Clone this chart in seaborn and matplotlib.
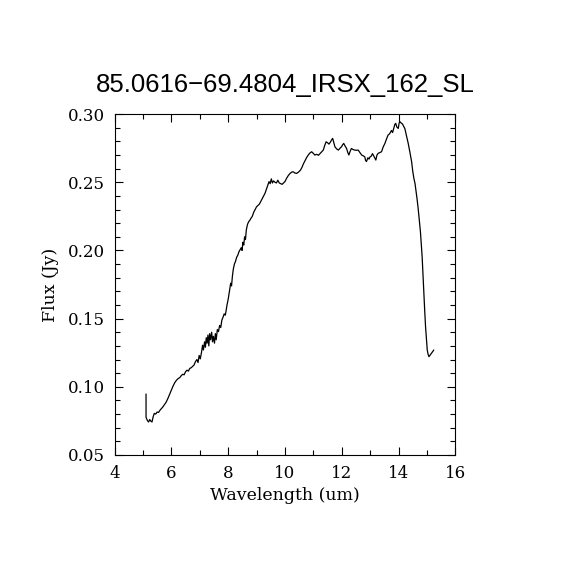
import matplotlib
matplotlib.use("Agg")
import matplotlib.pyplot as plt
import seaborn as sns
import pandas as pd
from matplotlib.ticker import MultipleLocator

# IRS SL spectrum
wavelength = [
    5.11, 5.11, 5.16, 5.20, 5.24, 5.28, 5.32, 5.36, 5.40, 5.45, 5.50, 5.55,
    5.60, 5.65, 5.70, 5.76, 5.82, 5.88, 5.94, 6.00, 6.06, 6.12, 6.18, 6.24,
    6.30, 6.35, 6.40, 6.45, 6.50, 6.55, 6.60, 6.65, 6.70, 6.75, 6.80, 6.85,
    6.90, 6.94, 6.98, 7.02, 7.06, 7.10, 7.13, 7.17, 7.20, 7.23, 7.26, 7.29,
    7.32, 7.35, 7.38, 7.42, 7.45, 7.48, 7.52, 7.55, 7.58, 7.62, 7.66, 7.70,
    7.74, 7.78, 7.82, 7.86, 7.90, 7.93, 7.96, 8.00, 8.03, 8.06, 8.09, 8.12,
    8.15, 8.18, 8.22, 8.26, 8.30, 8.34, 8.38, 8.42, 8.46, 8.49, 8.52, 8.55,
    8.58, 8.61, 8.64, 8.68, 8.72, 8.76, 8.80, 8.85, 8.90, 8.95, 9.00, 9.05,
    9.10, 9.15, 9.20, 9.25, 9.30, 9.35, 9.40, 9.44, 9.48, 9.52, 9.56, 9.60,
    9.65, 9.70, 9.75, 9.80, 9.85, 9.90, 9.95, 10.00, 10.06, 10.12, 10.18,
    10.24, 10.29, 10.35, 10.41, 10.48, 10.55, 10.60, 10.65, 10.70, 10.76,
    10.82, 10.88, 10.94, 11.00, 11.05, 11.12, 11.18, 11.24, 11.30, 11.35,
    11.40, 11.45, 11.50, 11.55, 11.60, 11.64, 11.68, 11.72, 11.76, 11.82,
    11.88, 11.94, 11.99, 12.03, 12.07, 12.12, 12.17, 12.21, 12.25, 12.30,
    12.34, 12.40, 12.46, 12.52, 12.58, 12.64, 12.70, 12.75, 12.81, 12.84,
    12.87, 12.92, 12.96, 12.99, 13.04, 13.08, 13.11, 13.16, 13.20, 13.24,
    13.28, 13.34, 13.40, 13.46, 13.52, 13.58, 13.63, 13.68, 13.72, 13.75,
    13.79, 13.83, 13.87, 13.90, 13.94, 13.99, 14.02, 14.05, 14.09, 14.14,
    14.18, 14.22, 14.28, 14.34, 14.40, 14.46, 14.50, 14.54, 14.58, 14.61,
    14.65, 14.69, 14.73, 14.77, 14.80, 14.83, 14.86, 14.89, 14.92, 14.95,
    14.98, 15.01, 15.04, 15.07, 15.11, 15.16, 15.20, 15.24,
]
flux = [
    0.0947, 0.0776, 0.0752, 0.0742, 0.0760, 0.0748, 0.0742, 0.0780, 0.0805,
    0.0800, 0.0815, 0.0812, 0.0828, 0.0840, 0.0852, 0.0870, 0.0888, 0.0915,
    0.0945, 0.0975, 0.1005, 0.1030, 0.1048, 0.1060, 0.1068, 0.1082, 0.1092,
    0.1088, 0.1110, 0.1122, 0.1115, 0.1135, 0.1140, 0.1150, 0.1160, 0.1185,
    0.1200, 0.1178, 0.1230, 0.1205, 0.1250, 0.1305, 0.1270, 0.1330, 0.1290,
    0.1360, 0.1320, 0.1380, 0.1300, 0.1390, 0.1345, 0.1400, 0.1330, 0.1370,
    0.1320, 0.1390, 0.1345, 0.1420, 0.1405, 0.1450, 0.1435, 0.1490, 0.1510,
    0.1535, 0.1525, 0.1560, 0.1600, 0.1640, 0.1680, 0.1720, 0.1760, 0.1740,
    0.1810, 0.1860, 0.1900, 0.1920, 0.1950, 0.1965, 0.1990, 0.2005, 0.2020,
    0.2000, 0.2060, 0.2040, 0.2100, 0.2080, 0.2150, 0.2190, 0.2210, 0.2220,
    0.2235, 0.2250, 0.2280, 0.2300, 0.2320, 0.2330, 0.2340, 0.2360, 0.2380,
    0.2400, 0.2420, 0.2450, 0.2480, 0.2505, 0.2490, 0.2525, 0.2495, 0.2510,
    0.2500, 0.2495, 0.2515, 0.2495, 0.2490, 0.2485, 0.2495, 0.2505, 0.2530,
    0.2550, 0.2565, 0.2575, 0.2577, 0.2568, 0.2565, 0.2575, 0.2590, 0.2610,
    0.2635, 0.2655, 0.2680, 0.2700, 0.2715, 0.2724, 0.2712, 0.2700, 0.2705,
    0.2698, 0.2712, 0.2725, 0.2736, 0.2770, 0.2797, 0.2790, 0.2780, 0.2795,
    0.2810, 0.2822, 0.2790, 0.2760, 0.2745, 0.2736, 0.2750, 0.2760, 0.2775,
    0.2785, 0.2765, 0.2748, 0.2720, 0.2700, 0.2730, 0.2748, 0.2740, 0.2736,
    0.2735, 0.2736, 0.2718, 0.2700, 0.2695, 0.2687, 0.2660, 0.2652, 0.2680,
    0.2670, 0.2685, 0.2692, 0.2710, 0.2700, 0.2680, 0.2663, 0.2700, 0.2712,
    0.2718, 0.2724, 0.2760, 0.2785, 0.2820, 0.2846, 0.2855, 0.2868, 0.2880,
    0.2865, 0.2895, 0.2925, 0.2932, 0.2905, 0.2895, 0.2935, 0.2944, 0.2935,
    0.2927, 0.2910, 0.2895, 0.2840, 0.2785, 0.2720, 0.2650, 0.2580, 0.2528,
    0.2490, 0.2443, 0.2380, 0.2308, 0.2220, 0.2137, 0.2040, 0.1954, 0.1820,
    0.1685, 0.1560, 0.1441, 0.1350, 0.1270, 0.1238, 0.1221, 0.1232, 0.1245,
    0.1258, 0.1270,
]
title = "85.0616\u221269.4804_IRSX_162_SL"

df = pd.DataFrame({"wavelength": wavelength, "flux": flux})

sns.set_style("ticks")
plt.rcParams["font.family"] = ["DejaVu Serif"]
for key in ["text.color", "axes.labelcolor", "xtick.color", "ytick.color",
            "axes.edgecolor"]:
    plt.rcParams[key] = "black"

fig = plt.figure(figsize=(5.7, 5.7), dpi=100)
ax = fig.add_axes([0.2009, 0.2018, 0.598, 0.598])

sns.lineplot(data=df, x="wavelength", y="flux", sort=False, estimator=None,
             color="black", linewidth=0.9, ax=ax)

ax.set_xlim(4, 16)
ax.set_ylim(0.05, 0.30)
ax.xaxis.set_major_locator(MultipleLocator(2))
ax.xaxis.set_minor_locator(MultipleLocator(1))
ax.yaxis.set_major_locator(MultipleLocator(0.05))
ax.yaxis.set_minor_locator(MultipleLocator(0.01))
ax.yaxis.set_major_formatter(plt.FormatStrFormatter("%.2f"))
ax.tick_params(which="both", direction="in", top=True, right=True,
               width=0.8, labelsize=12, pad=7, color="black",
               labelcolor="black")
ax.tick_params(which="major", length=6)
ax.tick_params(which="minor", length=3.5)
for s in ax.spines.values():
    s.set_linewidth(0.8)
    s.set_color("black")

ax.set_xlabel("Wavelength (um)", fontsize=12.5, labelpad=4, color="black")
ax.set_ylabel("Flux (Jy)", fontsize=12.5, labelpad=6, color="black")
fig.text(0.5, 0.851, title, ha="center", va="center", fontsize=18.5,
         color="black", family=["Liberation Sans", "DejaVu Sans"])

fig.savefig("out.png", dpi=100)
